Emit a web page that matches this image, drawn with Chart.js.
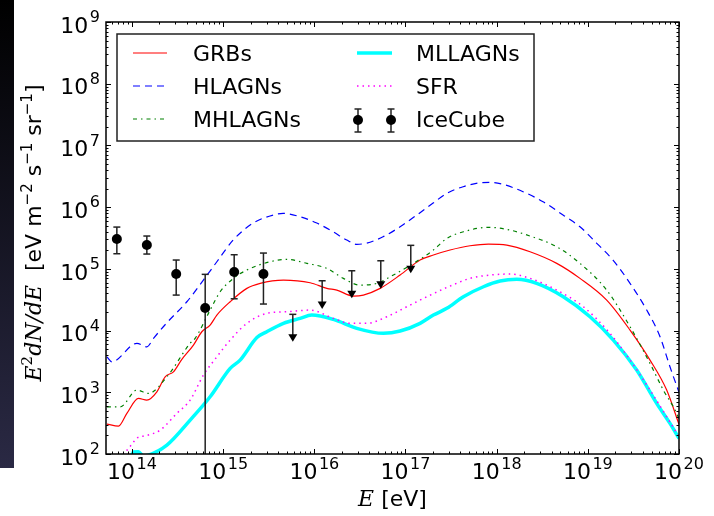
<!DOCTYPE html>
<html>
<head>
<meta charset="utf-8">
<script src="https://cdn.jsdelivr.net/npm/chart.js@4.4.0/dist/chart.umd.min.js"></script>
<style>
  html, body { margin: 0; padding: 0; background: #fff; }
  #wrap { width: 714px; height: 516px; }
</style>
</head>
<body>
<div id="wrap"><canvas id="nuFlux" width="714" height="516"></canvas></div>
<script>
// log10 E [eV] and log10 E^2 dN/dE [eV m^-2 s^-1 sr^-1] per source model
const grbLogE = [13.725, 13.852, 13.944, 14.071, 14.163, 14.273, 14.364, 14.455, 14.547, 14.674, 14.766, 14.857, 14.931, 15.077, 15.260, 15.406, 15.661, 15.954, 16.137, 16.247, 16.429, 16.538, 16.722, 16.941, 17.160, 17.306, 17.489, 17.708, 17.909, 18.111, 18.366, 18.659, 18.914, 19.207, 19.463, 19.682, 19.865, 20.0];
const grbLogF = [2.485, 2.452, 2.658, 2.901, 2.874, 3.008, 3.251, 3.332, 3.533, 3.765, 3.981, 4.089, 4.251, 4.467, 4.684, 4.765, 4.818, 4.775, 4.684, 4.656, 4.559, 4.575, 4.684, 4.900, 5.143, 5.224, 5.305, 5.374, 5.402, 5.386, 5.277, 5.089, 4.846, 4.494, 4.008, 3.522, 3.036, 2.48];

const hlLogE = [13.725, 13.780, 14.054, 14.163, 14.236, 14.383, 14.602, 14.781, 14.931, 15.110, 15.329, 15.548, 15.658, 15.844, 16.027, 16.206, 16.356, 16.466, 16.576, 16.754, 16.941, 17.124, 17.303, 17.453, 17.632, 17.818, 17.928, 18.070, 18.289, 18.509, 18.728, 18.914, 19.098, 19.276, 19.463, 19.646, 19.792, 19.901, 20.0];
const hlLogF = [3.575, 3.494, 3.793, 3.737, 3.874, 4.127, 4.467, 4.814, 5.115, 5.467, 5.742, 5.872, 5.900, 5.844, 5.742, 5.601, 5.467, 5.397, 5.418, 5.520, 5.682, 5.872, 6.066, 6.224, 6.331, 6.395, 6.402, 6.370, 6.250, 6.088, 5.872, 5.682, 5.413, 5.143, 4.765, 4.332, 3.900, 3.413, 3.0];

const mhLogE = [13.725, 13.871, 14.054, 14.181, 14.383, 14.638, 14.693, 14.857, 14.967, 15.113, 15.260, 15.515, 15.698, 15.918, 16.137, 16.319, 16.502, 16.685, 16.867, 17.087, 17.306, 17.453, 17.635, 17.909, 18.111, 18.366, 18.659, 18.914, 19.207, 19.463, 19.682, 19.828, 19.975, 20.0];
const mhLogF = [2.765, 2.765, 3.036, 2.982, 3.251, 3.793, 3.874, 4.332, 4.629, 4.846, 4.981, 5.115, 5.154, 5.089, 5.008, 4.846, 4.737, 4.765, 4.900, 5.089, 5.305, 5.494, 5.601, 5.673, 5.640, 5.532, 5.358, 5.089, 4.656, 4.062, 3.468, 3.036, 2.658, 2.56];

const mlLogE = [13.98, 14.016, 14.071, 14.123, 14.181, 14.383, 14.638, 14.857, 15.077, 15.186, 15.370, 15.479, 15.661, 15.844, 15.972, 16.209, 16.466, 16.758, 16.941, 17.160, 17.306, 17.453, 17.635, 17.855, 18.037, 18.220, 18.439, 18.731, 19.024, 19.280, 19.536, 19.755, 19.901, 20.0];
const mlLogF = [1.9, 2.031, 2.036, 1.97, 1.982, 2.144, 2.549, 2.927, 3.387, 3.522, 3.886, 3.981, 4.117, 4.198, 4.251, 4.181, 4.036, 3.955, 3.992, 4.117, 4.251, 4.360, 4.548, 4.710, 4.802, 4.830, 4.765, 4.548, 4.224, 3.846, 3.360, 2.820, 2.496, 2.253];

const sfLogE = [13.88, 13.925, 14.0, 14.054, 14.163, 14.309, 14.492, 14.638, 14.784, 14.931, 15.077, 15.260, 15.479, 15.698, 15.954, 16.209, 16.393, 16.576, 16.795, 17.014, 17.234, 17.489, 17.708, 17.928, 18.147, 18.366, 18.659, 18.951, 19.243, 19.463, 19.682, 19.865, 20.0];
const sfLogF = [1.9, 2.019, 2.16, 2.258, 2.3, 2.387, 2.658, 2.874, 3.279, 3.575, 3.846, 4.117, 4.279, 4.305, 4.332, 4.198, 4.117, 4.117, 4.224, 4.386, 4.548, 4.721, 4.846, 4.900, 4.916, 4.846, 4.656, 4.386, 3.955, 3.522, 3.036, 2.603, 2.279];

// IceCube measured points with error bars
const icLogE = [13.834, 14.163, 14.485, 14.803, 15.121, 15.442];
const icLogF = [5.483, 5.386, 4.916, 4.365, 4.948, 4.916];
const icLogHi = [5.677, 5.532, 5.143, 4.911, 5.229, 5.256];
const icLogLo = [5.245, 5.240, 4.575, 0.0, 4.515, 4.430];

// IceCube upper limits: bar top and arrow tip
const ulLogE = [15.764, 16.086, 16.411, 16.729, 17.058];
const ulLogTop = [4.263, 4.807, 4.969, 5.131, 5.381];
const ulLogTip = [3.819, 4.349, 4.522, 4.677, 4.927];

const xTickExps = [14, 15, 16, 17, 18, 19, 20];
const yTickExps = [2, 3, 4, 5, 6, 7, 8, 9];

const SANS = '"DejaVu Sans", sans-serif';
const SERIF = '"DejaVu Serif", serif';

const pts = (le, lf) => le.map((e, i) => ({ x: Math.pow(10, e), y: Math.pow(10, lf[i]) }));

function curve(label, le, lf, color, width, dash, order) {
    return {
        label: label,
        data: pts(le, lf),
        showLine: true,
        borderColor: color,
        borderWidth: width,
        borderDash: dash,
        pointRadius: 0,
        cubicInterpolationMode: 'monotone',
        fill: false,
        clip: 0,
        order: order,
    };
}

function richText(ctx, parts, x, y, align) {
    let w = 0;
    parts.forEach((p) => {
        ctx.font = p.font;
        p.w = ctx.measureText(p.text).width + (p.pad || 0);
        w += p.w;
    });
    let cx = align === 'center' ? x - w / 2 : align === 'right' ? x - w : x;
    ctx.textAlign = 'left';
    ctx.textBaseline = 'alphabetic';
    parts.forEach((p) => {
        ctx.font = p.font;
        ctx.fillText(p.text, cx + (p.pad || 0), y - (p.rise || 0));
        cx += p.w;
    });
}

function powParts(exp) {
    return [
        { text: '10', font: '22px ' + SANS },
        { text: String(exp), font: '16px ' + SANS, rise: 10.5, pad: 1.5 },
    ];
}

function seg(ctx, x1, y1, x2, y2) {
    ctx.beginPath();
    ctx.moveTo(x1, y1);
    ctx.lineTo(x2, y2);
    ctx.stroke();
}

function errorBar(ctx, x, yTop, yBot) {
    ctx.strokeStyle = '#222';
    ctx.lineWidth = 1.5;
    seg(ctx, x, yTop, x, yBot);
    seg(ctx, x - 3.5, yTop, x + 3.5, yTop);
    seg(ctx, x - 3.5, yBot, x + 3.5, yBot);
}

const icecubeBars = {
    id: 'icecubeBars',
    beforeDatasetDraw(chart, args) {
        if (chart.data.datasets[args.index].label !== 'IceCube') return;
        const ctx = chart.ctx;
        const { left, top, right, bottom } = chart.chartArea;
        const xs = chart.scales.x, ys = chart.scales.y;
        ctx.save();
        ctx.beginPath();
        ctx.rect(left, top, right - left, bottom - top);
        ctx.clip();
        icLogE.forEach((e, i) => {
            const px = xs.getPixelForValue(Math.pow(10, e));
            errorBar(ctx, px, ys.getPixelForValue(Math.pow(10, icLogHi[i])), ys.getPixelForValue(Math.pow(10, icLogLo[i])));
        });
        ulLogE.forEach((e, i) => {
            const px = xs.getPixelForValue(Math.pow(10, e));
            const yT = ys.getPixelForValue(Math.pow(10, ulLogTop[i]));
            const yB = ys.getPixelForValue(Math.pow(10, ulLogTip[i]));
            ctx.strokeStyle = '#222';
            ctx.lineWidth = 1.5;
            seg(ctx, px, yT, px, yB - 4);
            seg(ctx, px - 3.5, yT, px + 3.5, yT);
            ctx.fillStyle = '#000';
            ctx.beginPath();
            ctx.moveTo(px - 4.5, yB - 7.5);
            ctx.lineTo(px + 4.5, yB - 7.5);
            ctx.lineTo(px, yB);
            ctx.closePath();
            ctx.fill();
        });
        ctx.restore();
    },
};

const frame = {
    id: 'frame',
    beforeDraw(chart) {
        const ctx = chart.ctx;
        ctx.save();
        ctx.fillStyle = '#fff';
        ctx.fillRect(0, 0, chart.width, chart.height);
        const g = ctx.createLinearGradient(0, 0, 0, 468);
        g.addColorStop(0, '#000000');
        g.addColorStop(1, '#2a2944');
        ctx.fillStyle = g;
        ctx.fillRect(0, 0, 14, 468);
        ctx.restore();
    },
    afterDraw(chart) {
        const ctx = chart.ctx;
        const { left, top, right, bottom } = chart.chartArea;
        const xs = chart.scales.x, ys = chart.scales.y;
        ctx.save();

        // inward ticks on all four sides
        ctx.strokeStyle = '#000';
        ctx.lineWidth = 1;
        for (let p = 13; p <= 20; p++) {
            for (let k = 1; k <= 9; k++) {
                const v = k * Math.pow(10, p);
                if (v < xs.min * 0.999 || v > xs.max * 1.001) continue;
                const px = Math.round(xs.getPixelForValue(v)) + 0.5;
                const len = k === 1 ? 5 : 2.5;
                seg(ctx, px, bottom, px, bottom - len);
                seg(ctx, px, top, px, top + len);
            }
        }
        for (let p = 2; p <= 9; p++) {
            for (let k = 1; k <= 9; k++) {
                const v = k * Math.pow(10, p);
                if (v > ys.max * 1.001) continue;
                const py = Math.round(ys.getPixelForValue(v)) + 0.5;
                const len = k === 1 ? 5 : 2.5;
                seg(ctx, left, py, left + len, py);
                seg(ctx, right, py, right - len, py);
            }
        }

        ctx.lineWidth = 1.5;
        ctx.strokeRect(left, top, right - left, bottom - top);

        // tick labels
        ctx.fillStyle = '#000';
        xTickExps.forEach((n) => {
            richText(ctx, powParts(n), xs.getPixelForValue(Math.pow(10, n)), bottom + 25, 'center');
        });
        yTickExps.forEach((n) => {
            richText(ctx, powParts(n), left - 6, ys.getPixelForValue(Math.pow(10, n)) + 10.75, 'right');
        });

        // axis titles
        richText(ctx, [
            { text: 'E', font: 'italic 22px ' + SERIF },
            { text: ' [eV]', font: '22px ' + SANS },
        ], (left + right) / 2, 506, 'center');

        ctx.save();
        ctx.translate(32, 233);
        ctx.rotate(-Math.PI / 2);
        const sup = '15px ' + SANS;
        richText(ctx, [
            { text: 'E', font: 'italic 22px ' + SERIF },
            { text: '2', font: '15px ' + SERIF, rise: 9 },
            { text: 'dN/dE', font: 'italic 22px ' + SERIF },
            { text: '  [eV m', font: '22px ' + SANS },
            { text: '\u22122', font: sup, rise: 9 },
            { text: ' s', font: '22px ' + SANS },
            { text: '\u22121', font: sup, rise: 9 },
            { text: ' sr', font: '22px ' + SANS },
            { text: '\u22121', font: sup, rise: 9 },
            { text: ']', font: '22px ' + SANS },
        ], 0, 9, 'center');
        ctx.restore();

        // legend
        const bx = 117, by = 34, bw = 417, bh = 107;
        ctx.fillStyle = '#fff';
        ctx.fillRect(bx, by, bw, bh);
        ctx.strokeStyle = '#222';
        ctx.lineWidth = 1.5;
        ctx.strokeRect(bx, by, bw, bh);
        const rows = [53, 86, 119];
        const cols = [{ x0: 133, x1: 167, tx: 193 }, { x0: 357, x1: 392, tx: 416 }];
        const order = ['GRBs', 'HLAGNs', 'MHLAGNs', 'MLLAGNs', 'SFR', 'IceCube'];
        order.forEach((name, i) => {
            const ds = chart.data.datasets.find((d) => d.label === name);
            const c = cols[Math.floor(i / 3)];
            const y = rows[i % 3];
            if (name === 'IceCube') {
                [c.x0 + 1, c.x1 - 1].forEach((mx) => {
                    errorBar(ctx, mx, y - 10, y + 13);
                    ctx.fillStyle = '#000';
                    ctx.beginPath();
                    ctx.arc(mx, y + 1, 5, 0, Math.PI * 2);
                    ctx.fill();
                });
            } else {
                ctx.save();
                ctx.strokeStyle = ds.borderColor;
                ctx.lineWidth = ds.borderWidth;
                ctx.setLineDash(ds.borderDash || []);
                seg(ctx, c.x0, y, c.x1, y);
                ctx.restore();
            }
            ctx.fillStyle = '#000';
            richText(ctx, [{ text: name, font: '22px ' + SANS }], c.tx, y + 8, 'left');
        });

        ctx.restore();
    },
};

new Chart(document.getElementById('nuFlux').getContext('2d'), {
    type: 'scatter',
    data: {
        datasets: [
            {
                label: 'IceCube',
                data: pts(icLogE, icLogF),
                pointRadius: 5,
                pointBackgroundColor: '#000',
                pointBorderColor: '#000',
                pointBorderWidth: 0,
                order: 0,
            },
            curve('GRBs', grbLogE, grbLogF, '#ff0000', 1.2, [], 5),
            curve('HLAGNs', hlLogE, hlLogF, '#0000ff', 1.2, [7, 5], 4),
            curve('MHLAGNs', mhLogE, mhLogF, '#008000', 1.2, [4, 4, 1.5, 4], 3),
            curve('MLLAGNs', mlLogE, mlLogF, '#00ffff', 3.5, [], 2),
            curve('SFR', sfLogE, sfLogF, '#ff00ff', 1.5, [1.5, 4], 1),
        ],
    },
    options: {
        responsive: false,
        animation: false,
        layout: { padding: { top: 22, right: 35, left: 0, bottom: 0 } },
        scales: {
            x: {
                type: 'logarithmic',
                min: Math.pow(10, 13.715),
                max: 1e20,
                grid: { display: false },
                border: { display: false },
                ticks: { display: false },
                afterFit: (s) => { s.height = 62; },
            },
            y: {
                type: 'logarithmic',
                min: 1e2,
                max: 1e9,
                grid: { display: false },
                border: { display: false },
                ticks: { display: false },
                afterFit: (s) => { s.width = 106; },
            },
        },
        plugins: {
            legend: { display: false },
            tooltip: { enabled: false },
        },
    },
    plugins: [frame, icecubeBars],
});
</script>
</body>
</html>
